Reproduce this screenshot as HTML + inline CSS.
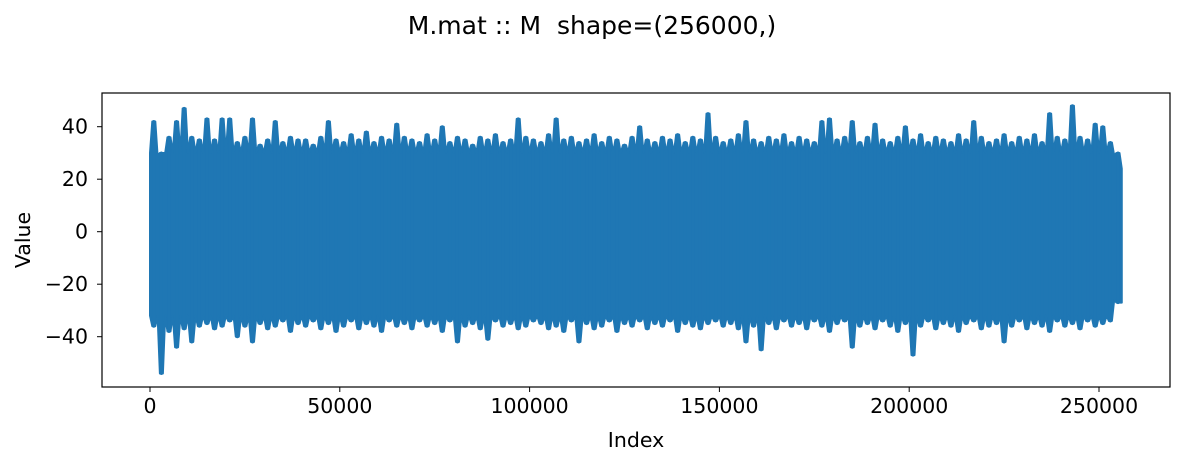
<!DOCTYPE html>
<html><head><meta charset="utf-8"><style>
body{margin:0;background:#fff;}
svg text{font-family:"DejaVu Sans","Liberation Sans",sans-serif;fill:#000;}
</style></head><body>
<svg id="chart" width="1185" height="466" viewBox="0 0 1185 466" xmlns="http://www.w3.org/2000/svg">
<text x="592" y="34" font-size="25" text-anchor="middle">M.mat :: M &#160;shape=(256000,)</text>
<g id="plot"></g>
<rect x="102" y="93" width="1068" height="294" fill="none" stroke="#000" stroke-width="1.2"/>
<g id="xt"></g><g id="yt"></g>
<text x="636" y="447" font-size="20.5" text-anchor="middle">Index</text>
<text x="0" y="0" font-size="20.5" text-anchor="middle" transform="translate(30,240) rotate(-90)">Value</text>
</svg>
<script>
const binSize = 2000;
const binMax = [42,30,36,42,47,36,35,43,35,43,43,34,36,43,33,35,42,34,36,35,35,33,36,42,35,34,37,35,38,34,36,35,41,36,35,34,37,35,40,34,36,35,33,36,35,37,34,35,43,36,35,34,37,43,35,36,34,35,37,34,36,35,33,36,40,35,34,36,35,37,34,36,35,45,36,34,35,37,42,35,34,36,35,37,34,36,35,34,42,43,35,36,42,34,36,41,35,34,36,40,35,37,34,36,35,34,37,35,42,36,34,35,37,34,36,35,37,34,45,36,35,48,36,35,41,40,34,30];
const binMin = [-36,-54,-38,-44,-37,-42,-36,-35,-37,-36,-34,-40,-36,-42,-35,-37,-36,-34,-38,-35,-36,-34,-37,-35,-38,-36,-34,-37,-35,-36,-38,-34,-36,-35,-37,-34,-36,-35,-38,-34,-42,-36,-35,-37,-41,-34,-36,-35,-37,-36,-34,-35,-37,-36,-38,-34,-42,-35,-37,-36,-34,-38,-35,-36,-34,-37,-35,-36,-34,-38,-35,-36,-37,-35,-34,-36,-35,-37,-42,-36,-45,-35,-37,-34,-36,-35,-37,-34,-36,-38,-35,-34,-44,-36,-35,-37,-34,-36,-38,-35,-47,-36,-34,-37,-35,-36,-38,-35,-34,-37,-36,-35,-42,-36,-34,-37,-35,-36,-38,-34,-36,-35,-37,-34,-36,-35,-34,-27];
const xTicks = [0,50000,100000,150000,200000,250000];
const yTicks = [-40,-20,0,20,40];
const NS="http://www.w3.org/2000/svg";
function X(v){return 150+v*189.8/50000;}
function Y(v){return 231.7-v*52.5/20;}
const plot=document.getElementById('plot');
let topPts=[],botPts=[];
for(let i=0;i<binMax.length;i++){
  const c=X((i+0.5)*binSize), l=X(i*binSize);
  topPts.push(l+','+Y(Math.min(binMax[i],31)-1)); topPts.push((c-1.5)+','+Y(binMax[i])); topPts.push((c+1.5)+','+Y(binMax[i]));
  botPts.push(l+','+Y(Math.max(binMin[i],-33)+1)); botPts.push((c-1.5)+','+Y(binMin[i])); botPts.push((c+1.5)+','+Y(binMin[i]));
}
topPts.unshift(X(0)+','+Y(24)); topPts.push(X(binMax.length*binSize)+','+Y(24));
botPts.unshift(X(0)+','+Y(-22)); botPts.push(X(binMax.length*binSize)+','+Y(-27));
const poly=document.createElementNS(NS,'polygon');
poly.setAttribute('points',topPts.concat(botPts.reverse()).join(' '));
poly.setAttribute('fill','#1f77b4');poly.setAttribute('stroke','#1f77b4');poly.setAttribute('stroke-width','2');poly.setAttribute('stroke-linejoin','round');


plot.appendChild(poly);
for(let i=0;i<binMax.length;i++){
  const ln=document.createElementNS(NS,'line');const c=X((i+0.5)*binSize);
  ln.setAttribute('x1',c);ln.setAttribute('x2',c);ln.setAttribute('y1',Y(binMax[i]));ln.setAttribute('y2',Y(binMin[i]));
  ln.setAttribute('stroke','#1f77b4');ln.setAttribute('stroke-width','3');ln.setAttribute('stroke-linecap','round');
  
  
  plot.appendChild(ln);
}
const xt=document.getElementById('xt');
xTicks.forEach(v=>{
  const t=document.createElementNS(NS,'line');t.setAttribute('x1',X(v));t.setAttribute('x2',X(v));t.setAttribute('y1',387);t.setAttribute('y2',392);t.setAttribute('stroke','#000');
  
  
  xt.appendChild(t);
  const s=document.createElementNS(NS,'text');s.setAttribute('x',X(v));s.setAttribute('y',413);s.setAttribute('font-size','20.5');s.setAttribute('text-anchor','middle');s.textContent=v;
  
  
  xt.appendChild(s);
});
const yt=document.getElementById('yt');
yTicks.forEach(v=>{
  const t=document.createElementNS(NS,'line');t.setAttribute('x1',97);t.setAttribute('x2',102);t.setAttribute('y1',Y(v));t.setAttribute('y2',Y(v));t.setAttribute('stroke','#000');
  
  
  yt.appendChild(t);
  const s=document.createElementNS(NS,'text');s.setAttribute('x',88);s.setAttribute('y',Y(v)+7);s.setAttribute('font-size','20.5');s.setAttribute('text-anchor','end');s.textContent=v<0?'\u2212'+(-v):v;
  
  
  yt.appendChild(s);
});
</script>
</body></html>
